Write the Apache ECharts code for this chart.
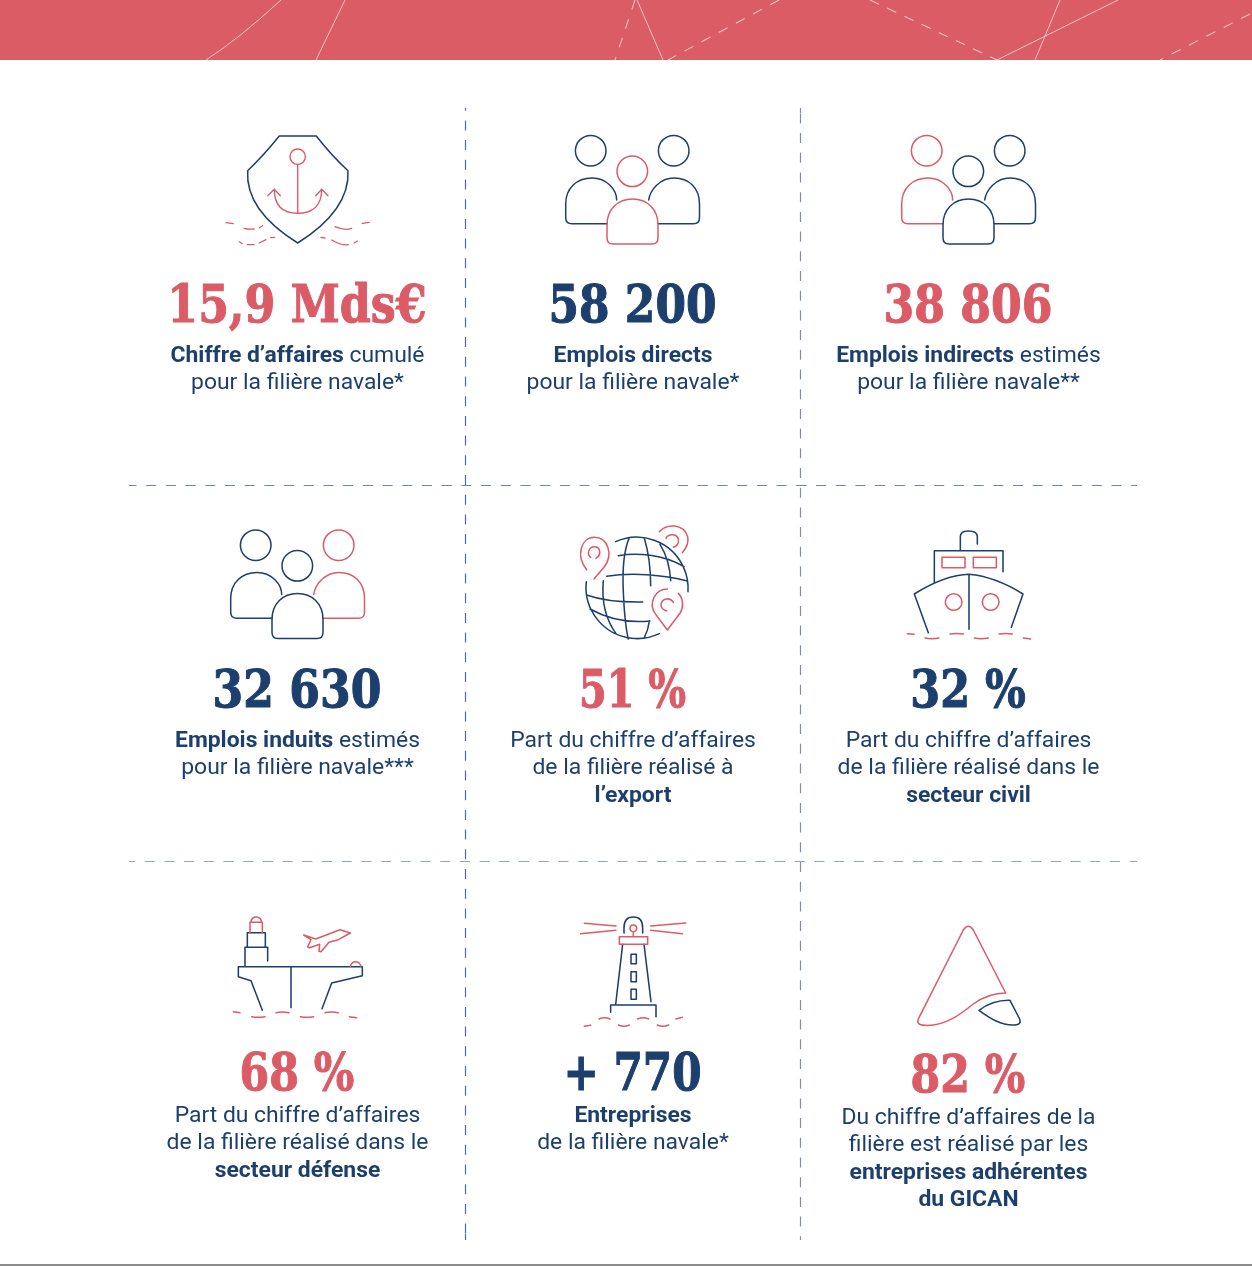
<!DOCTYPE html>
<html><head><meta charset="utf-8">
<style>html,body{margin:0;padding:0;background:#fff}#c{width:1252px;height:1266px}</style>
<script src="https://cdn.jsdelivr.net/npm/echarts@6/dist/echarts.min.js"></script>
</head><body><div id="c"></div>
<script>
const CORAL='#DB5C66', NAVY='#1C3F6E';
const kpiValues=['15,9 Mds€','58 200','38 806','32 630','51 %','32 %','68 %','+ 770','82 %'];
const kpiTones=['c','n','c','n','c','n','c','n','c'];
const kpiLabels=[
 ['{b|Chiffre d’affaires} cumulé','pour la filière navale*'],
 ['{b|Emplois directs}','pour la filière navale*'],
 ['{b|Emplois indirects} estimés','pour la filière navale**'],
 ['{b|Emplois induits} estimés','pour la filière navale***'],
 ['Part du chiffre d’affaires','de la filière réalisé à','{b|l’export}'],
 ['Part du chiffre d’affaires','de la filière réalisé dans le','{b|secteur civil}'],
 ['Part du chiffre d’affaires','de la filière réalisé dans le','{b|secteur défense}'],
 ['{b|Entreprises}','de la filière navale*'],
 ['Du chiffre d’affaires de la','filière est réalisé par les','{b|entreprises adhérentes}','{b|du GICAN}']
];
const colX=[297.5,633,968.5];
const valueY=[308,308,308,693,693,693,1076,1076,1078];
const labelY=[356,356,356,741,741,741,1116,1116,1118];
const valueScale=[0.93,0.92,0.925,0.925,0.835,0.9,0.895,0.885,0.895];

const g=[];
function svg(d,color,ox,oy,s,lw){g.push({type:'path',x:ox||0,y:oy||0,scaleX:s||1,scaleY:s||1,shape:{pathData:d},
  style:{fill:'none',stroke:color,lineWidth:lw||1.5,lineCap:'round',lineJoin:'round'},silent:true});}
function line(x1,y1,x2,y2,color,lw,dash,off){g.push({type:'line',shape:{x1,y1,x2,y2},style:{stroke:color,lineWidth:lw,lineDash:dash||null,lineDashOffset:off||0},silent:true});}

// header band
g.push({type:'rect',shape:{x:0,y:0,width:1252,height:60},style:{fill:'#DA5C65'},silent:true});
const W='rgba(255,255,255,0.62)';
svg('M281 0Q240 38 206 60',W,0,0,1,1);
line(345,0,316,60,W,1);
line(637,0,663,60,W,1);
line(1118,0,997,60,W,1);
line(1060,0,1035,60,W,1);
line(635,0,615,60,W,1.1,[10,10]);
line(779,0,668,60,W,1.1,[10,9.5]);
line(870,0,997,60,W,1.1,[10,9]);
line(1250,14,1160,60,W,1.1,[10,9.5]);

// grid separators
line(465.5,108,465.5,1240,'#4F6C94',1.2,[10,9.7],7.3);
line(465.5,1234,465.5,1240,'#4F6C94',1.2);
line(800.5,108,800.5,1240,'#7F8DAA',1.2,[10,9.7],14.3);
line(800.5,108,800.5,113,'#7F8DAA',1.2);
line(129,485.5,1137,485.5,'#6E86AA',1.2,[10,9.7],2.5);
line(129,861.5,1137,861.5,'#93A5C0',1.2,[10,9.7],4);
// bottom rule
g.push({type:'rect',shape:{x:0,y:1264,width:1252,height:2},style:{fill:'#8C8C8C'},silent:true});

// icon 1 shield
svg('M279.3 136H316.3Q331 155 348 170.7Q350 210 297.7 243Q245 210 247.7 170.7Q264 155 279.3 136Z',NAVY);
g.push({type:'circle',shape:{cx:297.7,cy:156.7,r:7.7},style:{fill:'none',stroke:CORAL,lineWidth:1.4},silent:true});
svg('M297.7 164.5V213.3M274.3 189.3C274.3 205 282 213.3 297.7 213.3C313 213.3 321.7 205 321.7 189.3M267.7 195.7L274.3 189.3L280.3 195.7M315.7 195.7L321.7 189.3L328 195.7',CORAL,0,0,1,1.4);
svg('M226 222.7L233.3 223.7M244 228.3Q249 229.5 254 229M259.3 227.7L262.7 225.7M239.3 241.7L242.3 243.7M247.3 244.7H254M259.3 243L266 239.7M270.7 237.7L274.7 237.3M335 226.7Q345 231 351.7 228.3M362.3 223.3L369.3 222.3M321 237.3L325 238M331.7 240Q342 246 348.3 244.7M354 243L357.3 241',CORAL,0,0,1,1.3);

// people icons
function people(dx,dy,cl,cc,cr){
  const c=(x,y,col)=>g.push({type:'circle',shape:{cx:x+dx,cy:y+dy,r:15.3},style:{fill:'none',stroke:col,lineWidth:1.5},silent:true});
  c(590.7,150.7,cl);c(673.7,150.7,cr);c(632.3,171.3,cc);
  svg('M607.3 223.7H572Q565.7 223.7 565.7 217.7V204C565.7 188 577 178 592 178C607 178 616.7 190 616.7 200',cl,dx,dy);
  svg('M648.7 200C650 190 660 178 674 178C689 178 699.5 188 699.5 204V217.7Q699.5 223.7 693.5 223.7H658',cr,dx,dy);
  svg('M607 225C607 209 618 199 632.5 199C647 199 658 209 658 225V238Q658 244 652 244H613Q607 244 607 238Z',cc,dx,dy);
}
people(0,0,NAVY,CORAL,NAVY);
people(336,0,CORAL,NAVY,NAVY);
people(-335,394.5,NAVY,NAVY,CORAL);

const T=1/3, LW=4.6;
// globe
svg('M167 80A154 154 0 0 1 384 230M79 200A154 154 0 0 0 298 356M208 68C190 110 187 170 190 230C192 280 195 330 205 372M253 70C265 110 272 160 272 212M268 318Q265 345 252 370M130 197C125 250 135 310 168 356M300 88C320 120 330 160 332 197M175 122C230 112 310 118 372 155M140 184C210 172 310 178 382 198M80 240C130 258 190 262 248 261M90 282C140 310 200 325 270 318',NAVY,560,515,T,LW);
svg('M80 164C45 120 65 67 103 67C145 67 160 120 133 155L102 192M92 127C80 118 85 95 103 95C122 95 125 120 108 130M298 50C320 25 370 25 383 65C388 85 378 100 367 113M318 70C325 55 350 55 355 72C358 85 350 95 340 97M322 222C285 222 265 265 285 295L322 345L360 295C372 275 370 250 355 235M340 262C330 245 305 250 303 270C303 280 310 285 320 288',CORAL,560,515,T,LW);

// ship
svg('M196 92V50Q196 33 220 33Q247 33 247 50V72M118 190V92H324V155M100 338L58 222Q150 165 222 163Q300 170 384 222L349 322M222 163V328',NAVY,895,520,T,LW);
svg('M141 112H210V143H141ZM235 112H304V143H235ZM151 246A25 25 0 1 0 201 246A25 25 0 1 0 151 246ZM262 246A25 25 0 1 0 312 246A25 25 0 1 0 262 246Z',CORAL,895,520,T,LW);
svg('M37 341L57 343M90 354Q110 358 132 354M165 342Q185 339 205 342M238 354Q258 358 280 354M312 342Q332 339 352 342M385 354L407 357',CORAL,895,520,T,LW);

// platform
svg('M60 185V127H128V168M67 127V83H121V127M40 185H412V212L320 234L291 311M40 185V215L78 227L112 316M198 185V308',NAVY,225,905,T,LW);
svg('M75 83V52H112V83M77 52Q80 36 94 36Q108 36 110 52M376 184Q380 170 392 170Q404 170 408 184M236 90L272 102L345 74L376 84L340 104L312 112L288 140L282 139L284 118L254 128L248 126L258 104Z',CORAL,225,905,T,LW);
svg('M25 320L45 323M80 335Q100 339 120 335M153 323Q172 319 192 323M226 335Q246 339 266 335M300 323Q320 319 340 323M373 335L395 338',CORAL,225,905,T,LW);

// lighthouse
svg('M162 84V68Q162 36 190 36Q218 36 218 68V84M158 118L137 298M222 118L243 290M122 322V300H258V335M183 148H199V176H183ZM183 200H199V230H183ZM183 253H199V283H183Z',NAVY,570,905,T,LW);
svg('M148 95H233V118H148ZM180 70A10 10 0 1 0 200 70A10 10 0 1 0 180 70ZM190 80V95M43 55L138 63M32 86L138 76M242 63L347 54M242 76L337 86',CORAL,570,905,T,LW);
svg('M43 364L62 361M87 342Q103 334 120 342M145 360Q162 368 178 360M203 342Q220 334 236 342M262 360Q278 368 296 360M318 342L337 337',CORAL,570,905,T,LW);

// logo
svg('M302 234L205 45Q190 22 175 45L42 308Q30 330 60 331C120 335 170 295 205 267C235 245 265 234 302 234',CORAL,905,915,T,LW);
svg('M222 286C250 265 280 255 315 256L344 312Q350 328 330 330C290 333 255 310 222 286Z',NAVY,905,915,T,LW);

// texts
kpiValues.forEach((v,i)=>{
  const x=colX[i%3]-0.5, col=kpiTones[i]==='c'?CORAL:NAVY;
  g.push({type:'text',x,y:valueY[i],scaleX:valueScale[i],style:{text:v,align:'center',verticalAlign:'middle',
    font:'bold 53px "DejaVu Serif Condensed","DejaVu Serif",serif',fill:col,stroke:col,lineWidth:1},silent:true});
  kpiLabels[i].forEach((t,j)=>{
    g.push({type:'text',x:colX[i%3],y:labelY[i]+j*27.4,style:{text:t,align:'center',verticalAlign:'middle',
      fontFamily:'Roboto',fontSize:22.9,fill:NAVY,
      rich:{b:{fontFamily:'Roboto',fontSize:22.9,fontWeight:700,fill:NAVY}}},silent:true});
  });
});

const chart=echarts.init(document.getElementById('c'),null,{renderer:'canvas',width:1252,height:1266});
chart.setOption({backgroundColor:'#fff',animation:false,
  series:[{type:'custom',coordinateSystem:'none',silent:true,clip:false,data:[0],
    renderItem:()=>({type:'group',children:g})}]});
</script></body></html>
